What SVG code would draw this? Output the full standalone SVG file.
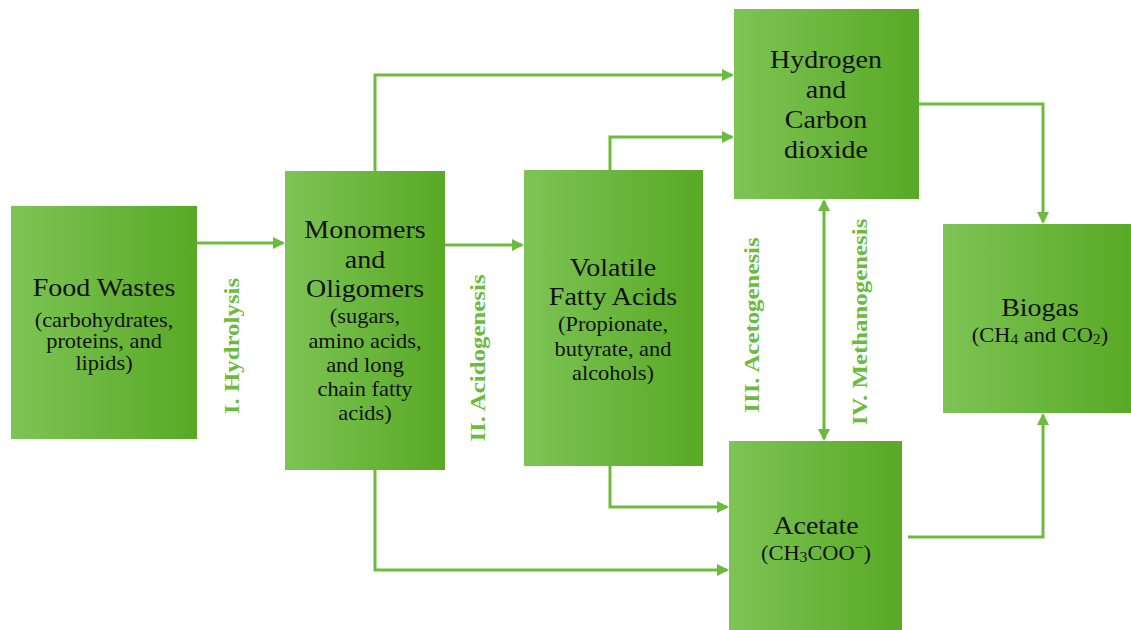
<svg xmlns="http://www.w3.org/2000/svg" width="1131" height="630" viewBox="0 0 1131 630">
<style>
.box{fill:url(#g)}
.t{font-family:"Liberation Serif","Times New Roman",serif;fill:#111;text-anchor:middle}
.big{font-size:25px}
.sm{font-size:20px}
.lbl{font-family:"Liberation Serif","Times New Roman",serif;font-weight:bold;font-size:22px;fill:#6cbb3c;text-anchor:middle}
.c{fill:none;stroke:#6cbb3c;stroke-width:3}
</style>
<defs>
<linearGradient id="g" x1="0" y1="0" x2="1" y2="0">
<stop offset="0" stop-color="#7dc455"/>
<stop offset="1" stop-color="#58a925"/>
</linearGradient>
<marker id="a" markerWidth="12" markerHeight="12" refX="10" refY="6" orient="auto" markerUnits="userSpaceOnUse">
<path d="M0,0 L12,6 L0,12 Z" fill="#6cbb3c"/>
</marker>
<marker id="as" markerWidth="12" markerHeight="12" refX="2" refY="6" orient="auto" markerUnits="userSpaceOnUse">
<path d="M12,0 L0,6 L12,12 Z" fill="#6cbb3c"/>
</marker>
</defs>
<rect width="1131" height="630" fill="#fff"/>

<g id="connectors">
<path class="c" d="M160,243 H283" marker-end="url(#a)"/>
<path class="c" d="M445,245 H522" marker-end="url(#a)"/>
<path class="c" d="M375,171 V75 H732" marker-end="url(#a)"/>
<path class="c" d="M610,170 V137 H732" marker-end="url(#a)"/>
<path class="c" d="M910,104 H1043 V222" marker-end="url(#a)"/>
<path class="c" d="M824,201 V439" marker-start="url(#as)" marker-end="url(#a)"/>
<path class="c" d="M908,537 H1043 V415" marker-end="url(#a)"/>
<path class="c" d="M610,466 V507 H727" marker-end="url(#a)"/>
<path class="c" d="M375,470 V570 H727" marker-end="url(#a)"/>
</g>

<g id="labels">
<text class="lbl" transform="translate(239,346) rotate(-90) scale(1.13,1)">I. Hydrolysis</text>
<text class="lbl" transform="translate(485,358) rotate(-90) scale(1.13,1)">II. Acidogenesis</text>
<text class="lbl" transform="translate(759,325) rotate(-90) scale(1.13,1)">III. Acetogenesis</text>
<text class="lbl" transform="translate(867,322) rotate(-90) scale(1.13,1)">IV. Methanogenesis</text>
</g>

<g id="food">
<rect class="box" x="11" y="206" width="186" height="233"/>
<g transform="translate(104,0) scale(1.12,1)">
<text class="t big" x="0" y="296">Food Wastes</text>
<text class="t sm" x="0" y="327">(carbohydrates,</text>
<text class="t sm" x="0" y="348">proteins, and</text>
<text class="t sm" x="0" y="370">lipids)</text>
</g>
</g>

<g id="monomers">
<rect class="box" x="285" y="171" width="160" height="299"/>
<g transform="translate(365,0) scale(1.12,1)">
<text class="t big" x="0" y="238">Monomers</text>
<text class="t big" x="0" y="268">and</text>
<text class="t big" x="0" y="297">Oligomers</text>
<text class="t sm" x="0" y="323">(sugars,</text>
<text class="t sm" x="0" y="348">amino acids,</text>
<text class="t sm" x="0" y="372">and long</text>
<text class="t sm" x="0" y="396">chain fatty</text>
<text class="t sm" x="0" y="420">acids)</text>
</g>
</g>

<g id="vfa">
<rect class="box" x="524" y="170" width="179" height="296"/>
<g transform="translate(613,0) scale(1.12,1)">
<text class="t big" x="0" y="276">Volatile</text>
<text class="t big" x="0" y="305">Fatty Acids</text>
<text class="t sm" x="0" y="331">(Propionate,</text>
<text class="t sm" x="0" y="356">butyrate, and</text>
<text class="t sm" x="0" y="380">alcohols)</text>
</g>
</g>

<g id="hydrogen">
<rect class="box" x="734" y="9" width="185" height="190"/>
<g transform="translate(826,0) scale(1.12,1)">
<text class="t big" x="0" y="68">Hydrogen</text>
<text class="t big" x="0" y="98">and</text>
<text class="t big" x="0" y="128">Carbon</text>
<text class="t big" x="0" y="158">dioxide</text>
</g>
</g>

<g id="biogas">
<rect class="box" x="943" y="224" width="190" height="189"/>
<g transform="translate(1040,0) scale(1.12,1)">
<text class="t big" x="0" y="316">Biogas</text>
<text class="t sm" x="0" y="342">(CH<tspan font-size="14" dy="2">4</tspan><tspan dy="-2"> and CO</tspan><tspan font-size="14" dy="2">2</tspan><tspan dy="-2">)</tspan></text>
</g>
</g>

<g id="acetate">
<rect class="box" x="729" y="441" width="173" height="192"/>
<g transform="translate(816,0) scale(1.12,1)">
<text class="t big" x="0" y="534">Acetate</text>
<text class="t sm" x="0" y="560">(CH<tspan font-size="14" dy="2">3</tspan><tspan dy="-2">COO</tspan><tspan font-size="14" dy="-8">−</tspan><tspan dy="8">)</tspan></text>
</g>
</g>
</svg>
